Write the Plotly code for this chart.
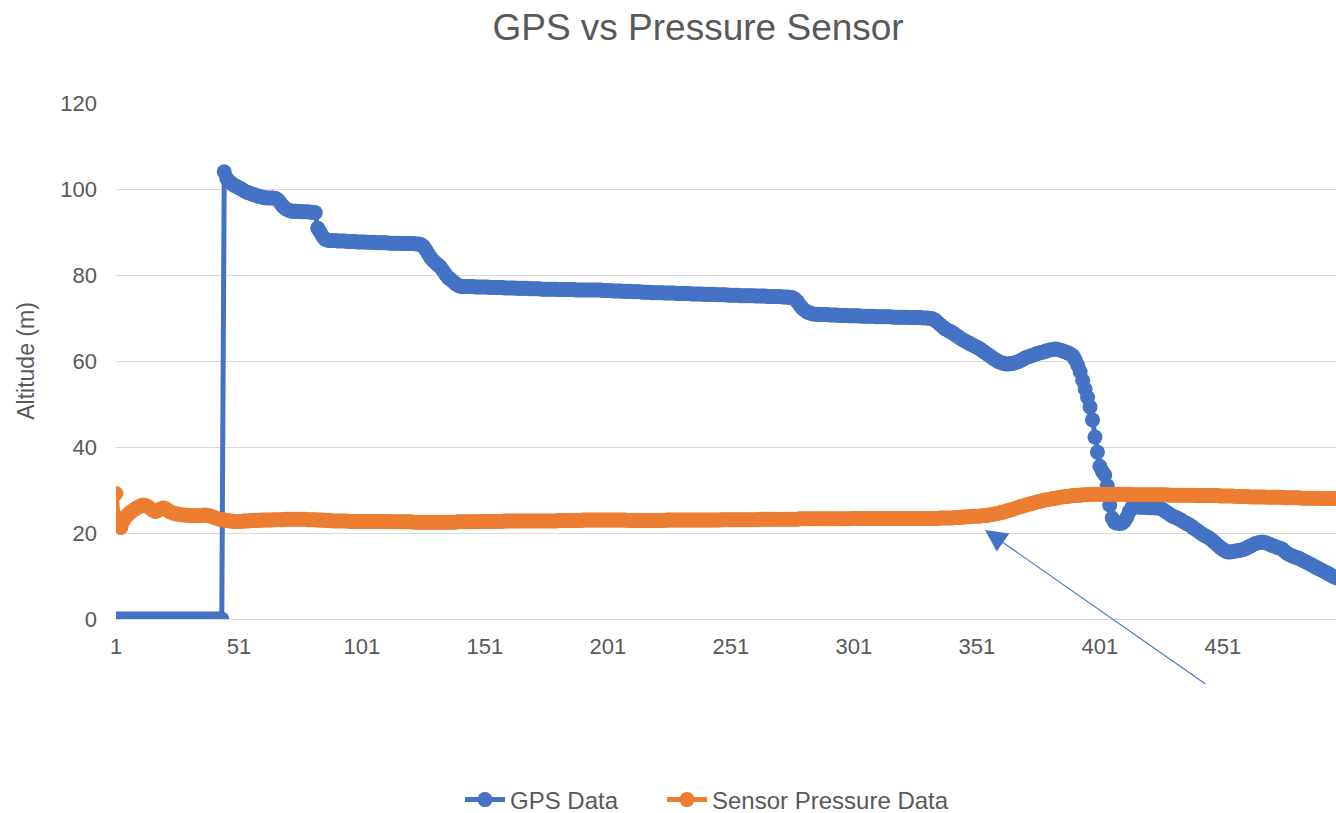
import plotly.graph_objects as go

# ---------------- data ----------------
gps_data = [
    0, 0, 0, 0, 0, 0, 0, 0, 0, 0,
    0, 0, 0, 0, 0, 0, 0, 0, 0, 0,
    0, 0, 0, 0, 0, 0, 0, 0, 0, 0,
    0, 0, 0, 0, 0, 0, 0, 0, 0, 0,
    0, 0, 0, 0, 104.0, 102.5, 101.8, 101.3, 100.9, 100.6,
    100.3, 100.0, 99.6, 99.3, 99.1, 98.9, 98.7, 98.5, 98.3, 98.2,
    98.0, 97.9, 97.9, 97.9, 97.9, 97.8, 97.4, 96.6, 95.9, 95.4,
    95.1, 94.9, 94.8, 94.8, 94.8, 94.7, 94.7, 94.7, 94.7, 94.6,
    94.6, 94.5, 90.9, 90.0, 89.0, 88.3, 88.1, 88.0, 88.0, 88.0,
    87.9, 87.9, 87.9, 87.9, 87.8, 87.8, 87.8, 87.8, 87.7, 87.7,
    87.7, 87.7, 87.6, 87.6, 87.6, 87.6, 87.5, 87.5, 87.5, 87.5,
    87.5, 87.4, 87.4, 87.4, 87.4, 87.4, 87.3, 87.3, 87.3, 87.3,
    87.3, 87.3, 87.2, 87.2, 87.1, 86.6, 85.8, 84.9, 84.0, 83.3,
    82.8, 82.3, 81.8, 81.0, 80.1, 79.4, 79.0, 78.5, 78.0, 77.6,
    77.4, 77.3, 77.3, 77.3, 77.3, 77.3, 77.2, 77.2, 77.2, 77.2,
    77.2, 77.2, 77.1, 77.1, 77.1, 77.1, 77.1, 77.1, 77.0, 77.0,
    77.0, 77.0, 77.0, 76.9, 76.9, 76.9, 76.9, 76.9, 76.8, 76.8,
    76.8, 76.8, 76.8, 76.7, 76.7, 76.7, 76.7, 76.7, 76.7, 76.7,
    76.6, 76.6, 76.6, 76.6, 76.6, 76.6, 76.6, 76.5, 76.5, 76.5,
    76.5, 76.5, 76.5, 76.5, 76.5, 76.5, 76.5, 76.5, 76.4, 76.4,
    76.4, 76.4, 76.3, 76.3, 76.3, 76.3, 76.2, 76.2, 76.2, 76.2,
    76.1, 76.1, 76.1, 76.1, 76.0, 76.0, 76.0, 76.0, 75.9, 75.9,
    75.9, 75.9, 75.9, 75.8, 75.8, 75.8, 75.8, 75.8, 75.7, 75.7,
    75.7, 75.7, 75.7, 75.7, 75.6, 75.6, 75.6, 75.6, 75.6, 75.5,
    75.5, 75.5, 75.5, 75.5, 75.4, 75.4, 75.4, 75.4, 75.4, 75.3,
    75.3, 75.3, 75.3, 75.3, 75.2, 75.2, 75.2, 75.2, 75.2, 75.2,
    75.1, 75.1, 75.1, 75.1, 75.1, 75.0, 75.0, 75.0, 75.0, 75.0,
    75.0, 74.9, 74.9, 74.9, 74.8, 74.7, 74.4, 73.8, 73.0, 72.3,
    71.8, 71.4, 71.2, 71.0, 70.9, 70.9, 70.8, 70.8, 70.8, 70.8,
    70.7, 70.7, 70.7, 70.7, 70.6, 70.6, 70.6, 70.6, 70.5, 70.5,
    70.5, 70.5, 70.5, 70.4, 70.4, 70.4, 70.4, 70.4, 70.4, 70.3,
    70.3, 70.3, 70.3, 70.3, 70.3, 70.3, 70.2, 70.2, 70.2, 70.2,
    70.2, 70.2, 70.1, 70.1, 70.1, 70.1, 70.1, 70.1, 70.0, 70.0,
    70.0, 69.9, 69.8, 69.5, 69.0, 68.5, 68.0, 67.5, 67.2, 66.9,
    66.6, 66.2, 65.8, 65.4, 65.0, 64.7, 64.4, 64.1, 63.8, 63.5,
    63.2, 62.9, 62.5, 62.1, 61.7, 61.3, 60.9, 60.5, 60.1, 59.8,
    59.6, 59.4, 59.3, 59.3, 59.4, 59.5, 59.7, 59.9, 60.2, 60.5,
    60.8, 61.0, 61.2, 61.4, 61.6, 61.8, 62.0, 62.1, 62.3, 62.5,
    62.6, 62.7, 62.8, 62.7, 62.5, 62.3, 62.1, 61.9, 61.6, 61.2,
    60.3, 59.0, 57.5, 55.5, 53.5, 51.5, 49.3, 46.3, 42.3, 38.8,
    35.5, 34.3, 33.5, 31.0, 26.5, 23.5, 22.5, 22.3, 22.2, 22.3,
    22.8, 23.7, 25.0, 26.0, 26.1, 26.1, 26.0, 26.0, 26.0, 26.0,
    25.9, 25.9, 25.9, 25.8, 25.8, 25.6, 25.3, 24.9, 24.5, 24.1,
    23.8, 23.6, 23.3, 23.0, 22.6, 22.3, 22.0, 21.7, 21.2, 20.8,
    20.4, 20.0, 19.6, 19.3, 19.0, 18.6, 18.1, 17.6, 17.1, 16.6,
    16.2, 15.8, 15.6, 15.6, 15.7, 15.8, 15.9, 16.0, 16.1, 16.3,
    16.6, 16.9, 17.2, 17.5, 17.7, 17.8, 17.9, 17.8, 17.6, 17.4,
    17.1, 16.9, 16.7, 16.5, 16.3, 15.8, 15.3, 15.0, 14.7, 14.5,
    14.3, 14.1, 13.8, 13.5, 13.2, 12.9, 12.6, 12.3, 12.0, 11.7,
    11.4, 11.1, 10.8, 10.5, 10.2, 9.9, 9.6,
]

sensor_pressure_data = [
    29.2, 22.8, 21.3, 22.8, 23.8, 24.4, 24.9, 25.3, 25.7, 26.0,
    26.3, 26.5, 26.4, 26.1, 25.7, 25.3, 25.0, 25.2, 25.6, 25.8,
    25.7, 25.3, 24.9, 24.7, 24.5, 24.4, 24.3, 24.2, 24.2, 24.1,
    24.1, 24.0, 24.0, 24.0, 24.0, 24.1, 24.2, 24.1, 24.0, 23.8,
    23.6, 23.4, 23.2, 23.1, 23.0, 22.9, 22.8, 22.8, 22.7, 22.7,
    22.7, 22.7, 22.8, 22.8, 22.8, 22.9, 22.9, 22.9, 22.9, 23.0,
    23.0, 23.0, 23.0, 23.0, 23.1, 23.1, 23.1, 23.1, 23.1, 23.2,
    23.2, 23.2, 23.2, 23.2, 23.2, 23.2, 23.2, 23.2, 23.1, 23.1,
    23.1, 23.1, 23.0, 23.0, 23.0, 22.9, 22.9, 22.9, 22.8, 22.8,
    22.8, 22.8, 22.8, 22.8, 22.8, 22.7, 22.7, 22.7, 22.7, 22.7,
    22.7, 22.7, 22.7, 22.7, 22.7, 22.7, 22.7, 22.7, 22.7, 22.7,
    22.7, 22.7, 22.6, 22.6, 22.6, 22.6, 22.6, 22.6, 22.6, 22.6,
    22.6, 22.5, 22.5, 22.5, 22.5, 22.5, 22.5, 22.5, 22.5, 22.5,
    22.5, 22.5, 22.5, 22.5, 22.5, 22.5, 22.5, 22.5, 22.5, 22.6,
    22.6, 22.6, 22.6, 22.6, 22.6, 22.6, 22.6, 22.6, 22.7, 22.7,
    22.7, 22.7, 22.7, 22.7, 22.7, 22.7, 22.7, 22.7, 22.8, 22.8,
    22.8, 22.8, 22.8, 22.8, 22.8, 22.8, 22.8, 22.8, 22.8, 22.8,
    22.8, 22.8, 22.8, 22.8, 22.8, 22.8, 22.8, 22.8, 22.8, 22.8,
    22.9, 22.9, 22.9, 22.9, 22.9, 22.9, 22.9, 22.9, 22.9, 22.9,
    23.0, 23.0, 23.0, 23.0, 23.0, 23.0, 23.0, 23.0, 23.0, 23.0,
    23.0, 23.0, 23.0, 23.0, 23.0, 23.0, 23.0, 23.0, 22.9, 22.9,
    22.9, 22.9, 22.9, 22.9, 22.9, 22.9, 22.9, 22.9, 22.9, 22.9,
    22.9, 22.9, 22.9, 22.9, 23.0, 23.0, 23.0, 23.0, 23.0, 23.0,
    23.0, 23.0, 23.0, 23.0, 23.0, 23.0, 23.0, 23.0, 23.0, 23.0,
    23.0, 23.0, 23.0, 23.0, 23.0, 23.0, 23.1, 23.1, 23.1, 23.1,
    23.1, 23.1, 23.1, 23.1, 23.1, 23.1, 23.1, 23.1, 23.1, 23.1,
    23.1, 23.1, 23.2, 23.2, 23.2, 23.2, 23.2, 23.2, 23.2, 23.2,
    23.2, 23.2, 23.2, 23.2, 23.2, 23.2, 23.2, 23.2, 23.3, 23.3,
    23.3, 23.3, 23.3, 23.3, 23.3, 23.3, 23.3, 23.3, 23.3, 23.3,
    23.3, 23.3, 23.3, 23.3, 23.3, 23.3, 23.3, 23.3, 23.3, 23.3,
    23.4, 23.4, 23.4, 23.4, 23.4, 23.4, 23.4, 23.4, 23.4, 23.4,
    23.4, 23.4, 23.4, 23.4, 23.4, 23.4, 23.4, 23.4, 23.4, 23.4,
    23.4, 23.4, 23.4, 23.4, 23.4, 23.4, 23.4, 23.4, 23.4, 23.4,
    23.4, 23.4, 23.4, 23.4, 23.4, 23.5, 23.5, 23.5, 23.5, 23.5,
    23.5, 23.6, 23.6, 23.6, 23.7, 23.7, 23.8, 23.8, 23.9, 23.9,
    23.9, 23.9, 24.0, 24.0, 24.1, 24.2, 24.3, 24.4, 24.5, 24.6,
    24.8, 24.9, 25.1, 25.3, 25.4, 25.6, 25.8, 26.0, 26.2, 26.3,
    26.5, 26.7, 26.8, 27.0, 27.1, 27.3, 27.4, 27.6, 27.7, 27.8,
    27.9, 28.0, 28.1, 28.2, 28.3, 28.4, 28.5, 28.5, 28.6, 28.7,
    28.7, 28.8, 28.8, 28.9, 28.9, 28.9, 29.0, 29.0, 29.0, 29.0,
    29.0, 29.0, 29.0, 29.0, 29.0, 29.0, 29.0, 29.0, 29.0, 29.0,
    29.0, 29.0, 29.0, 28.9, 28.9, 28.9, 28.9, 28.9, 28.9, 28.9,
    28.9, 28.9, 28.9, 28.9, 28.9, 28.9, 28.9, 28.9, 28.8, 28.8,
    28.8, 28.8, 28.8, 28.8, 28.8, 28.8, 28.8, 28.8, 28.8, 28.8,
    28.7, 28.7, 28.7, 28.7, 28.7, 28.7, 28.7, 28.7, 28.7, 28.6,
    28.6, 28.6, 28.6, 28.6, 28.6, 28.5, 28.5, 28.5, 28.5, 28.5,
    28.5, 28.4, 28.4, 28.4, 28.4, 28.4, 28.4, 28.4, 28.3, 28.3,
    28.3, 28.3, 28.3, 28.3, 28.3, 28.2, 28.2, 28.2, 28.2, 28.2,
    28.2, 28.2, 28.1, 28.1, 28.1, 28.1, 28.1, 28.1, 28.1, 28.1,
    28.0, 28.0, 28.0, 28.0, 28.0, 28.0, 28.0,
]

# category labels = sample number (1-based)
samples = list(range(1, len(gps_data) + 1))
x_tick_labels = [1, 51, 101, 151, 201, 251, 301, 351, 401, 451]
y_tick_labels = [0, 20, 40, 60, 80, 100, 120]

# arrow annotation target (sample, altitude)
arrow_target = (354.3, 20.7)

BLUE = "#4472C4"
ORANGE = "#ED7D31"
TEXT = "#595959"
GRID = "#D9D9D9"
FONT = "Liberation Sans, Arial, sans-serif"

fig = go.Figure()
fig.add_trace(go.Scatter(
    x=samples, y=gps_data, name="GPS Data", mode="lines+markers",
    line=dict(color=BLUE, width=5),
    marker=dict(color=BLUE, size=15),
    legend="legend",
))
fig.add_trace(go.Scatter(
    x=samples, y=sensor_pressure_data, name="Sensor Pressure Data",
    mode="lines+markers",
    line=dict(color=ORANGE, width=5),
    marker=dict(color=ORANGE, size=15),
    legend="legend2",
))

fig.add_annotation(
    x=arrow_target[0], y=arrow_target[1], xref="x", yref="y",
    ax=222, ay=155, axref="pixel", ayref="pixel",
    text="", showarrow=True, arrowhead=2, arrowsize=4, arrowwidth=1.1,
    arrowcolor=BLUE,
)

legend_common = dict(orientation="h", xref="container", yref="container",
                     xanchor="left", y=1 - 800 / 813, yanchor="middle",
                     font=dict(size=24, color=TEXT, family=FONT),
                     itemwidth=40, bgcolor="rgba(0,0,0,0)")

fig.update_layout(
    width=1336, height=813,
    paper_bgcolor="white", plot_bgcolor="white",
    margin=dict(l=116, r=0, t=103, b=194),
    font=dict(family=FONT, color=TEXT, size=22),
    title=dict(text="GPS vs Pressure Sensor", x=0.5225, xref="container",
               xanchor="center", y=1 - 27 / 813, yref="container",
               yanchor="middle", font=dict(size=37, color=TEXT, family=FONT)),
    showlegend=True,
    legend=dict(x=460 / 1336, **legend_common),
    legend2=dict(x=662 / 1336, **legend_common),
    xaxis=dict(range=[1, len(gps_data)], tickmode="array",
               tickvals=x_tick_labels,
               ticktext=[str(v) for v in x_tick_labels],
               showgrid=False, zeroline=False, showline=False,
               ticks="", ticklabelstandoff=12,
               tickfont=dict(size=22, color=TEXT)),
    yaxis=dict(range=[0, 120], tickmode="array", tickvals=y_tick_labels,
               showgrid=True, gridcolor=GRID, gridwidth=1.3,
               zeroline=True, zerolinecolor=GRID, zerolinewidth=1.3,
               showline=False, ticks="", ticklabelstandoff=18,
               tickfont=dict(size=22, color=TEXT),
               title=dict(text="Altitude (m)", standoff=19,
                          font=dict(size=23, color=TEXT))),
)

fig.write_html(
    "out.html",
    config={"displayModeBar": False},
    post_script="document.body.style.margin='0';document.body.style.padding='0';",
)
